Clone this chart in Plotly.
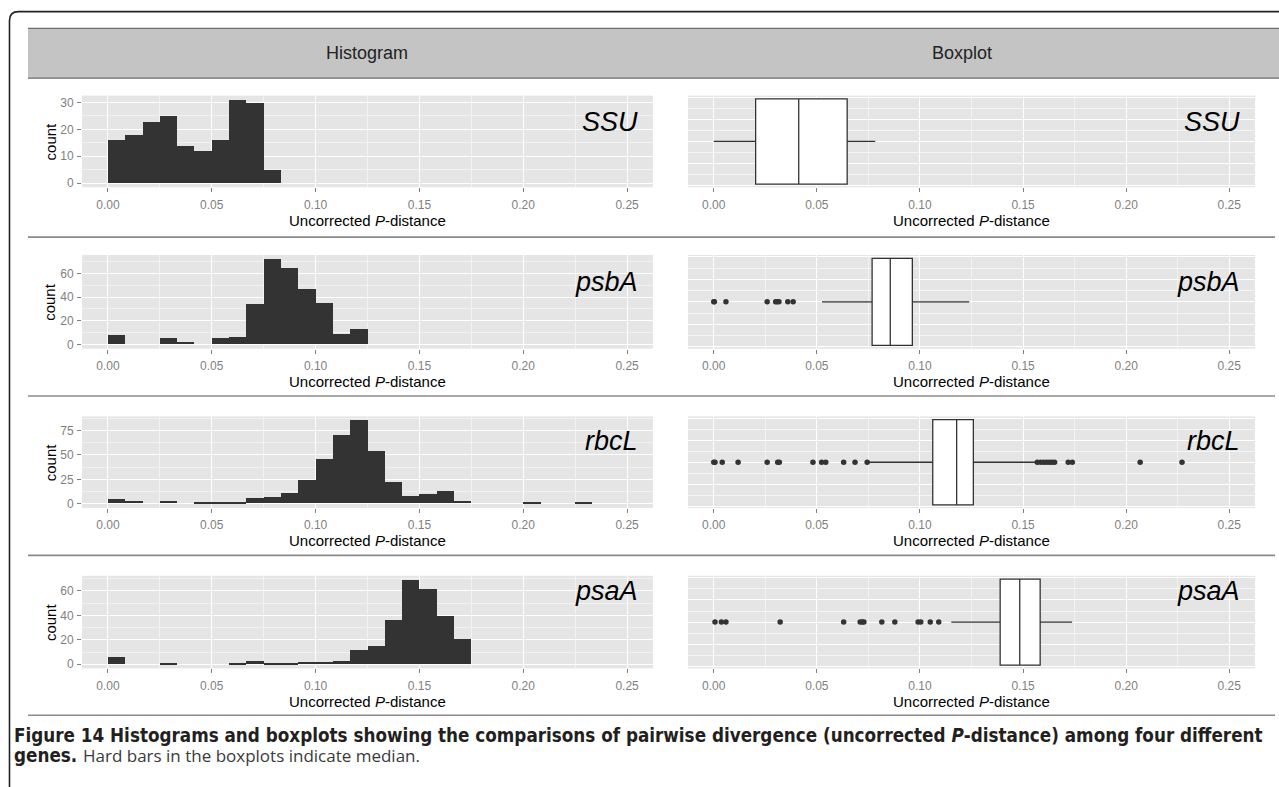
import numpy as np
import plotly.graph_objects as go

# ---------------- data ----------------
genes = ["SSU", "psbA", "rbcL", "psaA"]
bin_width = 0.25 / 30
# histogram counts per bin, starting at bin [0, bin_width)
hist_ssu = [16, 18, 23, 25, 14, 12, 16, 31, 30, 5]
hist_psba = [8, 0, 0, 5, 2, 0, 5, 6, 34, 72, 65, 47, 35, 9, 13]
hist_rbcl = [5, 3, 0, 3, 0, 1, 2, 1, 6, 7, 11, 24, 45, 70, 85, 54, 22, 8, 10, 13, 3,
             0, 0, 0, 1, 0, 0, 1]
hist_psaa = [6, 0, 0, 1, 0, 0, 0, 1, 3, 1, 1, 2, 2, 3, 12, 15, 36, 69, 62, 40, 21]
hist_counts = [hist_ssu, hist_psba, hist_rbcl, hist_psaa]
count_dticks = [10, 20, 25, 20]

# boxplot stats: lower whisker, Q1, median, Q3, upper whisker
box_lower = [0.0, 0.0525, 0.0748, 0.1152]
box_q1 = [0.0203, 0.0768, 0.1062, 0.1389]
box_median = [0.0412, 0.0856, 0.1178, 0.1484]
box_q3 = [0.0647, 0.0963, 0.1259, 0.1583]
box_upper = [0.0783, 0.1239, 0.1563, 0.1738]
out_ssu = []
out_psba = [0.0, 0.0003, 0.0059, 0.0259, 0.0300, 0.0306, 0.0316, 0.0359, 0.0385]
out_rbcl = [0.0, 0.0006, 0.0041, 0.0118, 0.0259, 0.0310, 0.0318, 0.0481, 0.0523,
            0.0543, 0.0630, 0.0685, 0.0744,
            0.1569, 0.1585, 0.1600, 0.1614, 0.1628, 0.1640, 0.1653, 0.1719, 0.1739,
            0.2068, 0.2271]
out_psaa = [0.0006, 0.0037, 0.0059, 0.0322, 0.0630, 0.0710, 0.0720, 0.0728, 0.0815,
            0.0878, 0.0991, 0.1004, 0.1050, 0.1091]
outliers = [out_ssu, out_psba, out_rbcl, out_psaa]

x_ticks = [0.00, 0.05, 0.10, 0.15, 0.20, 0.25]
x_range = [-0.0125, 0.2625]

# ---------------- layout helpers ----------------
W, H = 1279, 787
def px(x):
    return x / W
def py(y):
    return 1 - y / H

hist_x = (82, 653)
box_x = (688, 1255)
rows = [(96, 188), (256, 350), (418, 510), (578, 671)]
label_mid = [122, 283, 443, 593]
seps = [238, 397.5, 557.5, 718]

FONT = "Liberation Sans, Arial, Helvetica, sans-serif"
GREY_TXT = "#7F7F7F"
PANEL = "#E5E5E5"

fig = go.Figure()
layout = dict(
    width=W, height=H, margin=dict(l=0, r=0, t=0, b=0),
    paper_bgcolor="white", plot_bgcolor=PANEL, showlegend=False,
    font=dict(family=FONT, color="black"),
)
annotations = []
shapes = []

def xaxis_cfg(domain, anchor):
    return dict(
        domain=[px(domain[0]), px(domain[1])], anchor=anchor, range=x_range,
        tickmode="array", tickvals=x_ticks, ticktext=[f"{v:.2f}" for v in x_ticks],
        ticks="outside", ticklen=4, tickwidth=1, tickcolor=GREY_TXT,
        tickfont=dict(size=12, color=GREY_TXT, family=FONT), ticklabelstandoff=2,
        showgrid=True, gridcolor="white", gridwidth=1.1,
        minor=dict(tickmode="array", tickvals=[0.025, 0.075, 0.125, 0.175, 0.225],
                   showgrid=True, gridcolor="#F2F2F2", gridwidth=0.6, ticks=""),
        zeroline=False, showline=False, fixedrange=True,
    )

for i, g in enumerate(genes):
    top, bot = rows[i]
    ydom = [py(bot), py(top)]
    hx = f"x{2*i+1}"; hy = f"y{2*i+1}"
    bx = f"x{2*i+2}"; by = f"y{2*i+2}"
    # histogram
    counts = hist_counts[i]
    centers = (np.arange(len(counts)) + 0.5) * bin_width
    fig.add_trace(go.Bar(x=centers, y=counts, width=bin_width, xaxis=hx, yaxis=hy,
                         marker=dict(color="#333333", line=dict(width=0)),
                         hoverinfo="skip"))
    cmax = max(counts)
    dt = count_dticks[i]
    layout[f"xaxis{2*i+1}"] = xaxis_cfg(hist_x, hy)
    layout[f"yaxis{2*i+1}"] = dict(
        domain=ydom, anchor=hx, range=[-0.05 * cmax, 1.05 * cmax],
        tickmode="linear", tick0=0, dtick=dt,
        ticks="outside", ticklen=4, tickwidth=1, tickcolor=GREY_TXT,
        tickfont=dict(size=12, color=GREY_TXT, family=FONT), ticklabelstandoff=1,
        showgrid=True, gridcolor="white", gridwidth=1.1,
        minor=dict(tick0=dt / 2, dtick=dt, showgrid=True, gridcolor="#F2F2F2",
                   gridwidth=0.6, ticks=""),
        zeroline=False, showline=False, fixedrange=True,
    )
    # boxplot
    fig.add_trace(go.Box(
        y=[0], q1=[box_q1[i]], median=[box_median[i]], q3=[box_q3[i]],
        lowerfence=[box_lower[i]], upperfence=[box_upper[i]], orientation="h",
        width=0.93, whiskerwidth=0, fillcolor="white", boxpoints=False,
        line=dict(color="#333333", width=1.3), xaxis=bx, yaxis=by, hoverinfo="skip"))
    if outliers[i]:
        fig.add_trace(go.Scatter(
            x=outliers[i], y=[0] * len(outliers[i]), mode="markers", xaxis=bx, yaxis=by,
            marker=dict(color="#333333", size=5.5, symbol="circle"), hoverinfo="skip"))
    layout[f"xaxis{2*i+2}"] = xaxis_cfg(box_x, by)
    layout[f"yaxis{2*i+2}"] = dict(
        domain=ydom, anchor=bx, range=[-0.5, 0.5], tickmode="linear", tick0=0,
        dtick=0.24, showticklabels=False, ticks="", showgrid=True, gridcolor="white",
        gridwidth=1.1,
        minor=dict(tick0=0.12, dtick=0.24, showgrid=True, gridcolor="#F5F5F5",
                   gridwidth=0.8, ticks=""),
        zeroline=False, showline=False, fixedrange=True,
    )
    # gene labels
    for xr in (hist_x[1], box_x[1]):
        annotations.append(dict(
            x=px(xr - 13), y=py(label_mid[i]), xref="paper", yref="paper",
            xanchor="right", yanchor="middle", showarrow=False,
            text=f"<i>{g}</i>", font=dict(size=27, color="black", family=FONT)))
    # x titles
    for xl, xr in (hist_x, box_x):
        annotations.append(dict(
            x=px((xl + xr) / 2), y=py(bot + 33), xref="paper", yref="paper",
            xanchor="center", yanchor="middle", showarrow=False,
            text="Uncorrected <i>P</i>-distance",
            font=dict(size=15, color="black", family=FONT)))
    # y title
    annotations.append(dict(
        x=px(50), y=py((top + bot) / 2), xref="paper", yref="paper",
        xanchor="center", yanchor="middle", showarrow=False, textangle=-90,
        text="count", font=dict(size=15, color="black", family=FONT)))
    # separator line
    shapes.append(dict(type="line", xref="paper", yref="paper",
                       x0=px(28), x1=px(1275), y0=py(seps[i]), y1=py(seps[i]),
                       line=dict(color="#8A8A8A", width=1.6)))

# header band
shapes.append(dict(type="rect", xref="paper", yref="paper", x0=px(28), x1=1,
                   y0=py(78.5), y1=py(28.5), fillcolor="#C4C4C4", line=dict(width=0),
                   layer="below"))
for yy in (28.5, 78.5):
    shapes.append(dict(type="line", xref="paper", yref="paper", x0=px(28), x1=1,
                       y0=py(yy), y1=py(yy), line=dict(color="#6E6E6E", width=1.3)))
for txt, xc in (("Histogram", 367), ("Boxplot", 962)):
    annotations.append(dict(
        x=px(xc), y=py(53.5), xref="paper", yref="paper",
        xanchor="center", yanchor="middle", showarrow=False, text=txt,
        font=dict(size=18, color="#222222", family=FONT)))

# outer frame with rounded top-left corner
r = 9
path = (f"M {px(W)} {py(11.7)} L {px(9.5 + r)} {py(11.7)} "
        f"Q {px(9.5)} {py(11.7)} {px(9.5)} {py(11.7 + r)} L {px(9.5)} {py(H + 5)}")
shapes.append(dict(type="path", xref="paper", yref="paper", path=path,
                   line=dict(color="#222222", width=1.6)))

# caption
CAP_BOLD = "DejaVu Sans Condensed, Liberation Sans Narrow, Arial Narrow, sans-serif"
CAP_REG = "Open Sans, Liberation Sans, Arial, sans-serif"
annotations.append(dict(
    x=px(12), y=py(738), xref="paper", yref="paper", xanchor="left", yanchor="middle",
    showarrow=False,
    text="<b>Figure 14 Histograms and boxplots showing the comparisons of pairwise "
         "divergence (uncorrected <i>P</i>-distance) among four different</b>",
    font=dict(size=18.7, color="#231F20", family=CAP_BOLD)))
annotations.append(dict(
    x=px(12), y=py(758), xref="paper", yref="paper", xanchor="left", yanchor="middle",
    showarrow=False,
    text="<b>genes.</b>",
    font=dict(size=18.7, color="#231F20", family=CAP_BOLD)))
annotations.append(dict(
    x=px(81), y=py(758), xref="paper", yref="paper", xanchor="left", yanchor="middle",
    showarrow=False,
    text="Hard bars in the boxplots indicate median.",
    font=dict(size=17, color="#3A3A3A", family=CAP_REG)))

layout["annotations"] = annotations
layout["shapes"] = shapes
layout["bargap"] = 0
fig.update_layout(**layout)

fig.write_html("out.html", config={"displayModeBar": False},
               post_script="document.body.style.margin='0';"
                           "document.body.style.overflow='hidden';")
